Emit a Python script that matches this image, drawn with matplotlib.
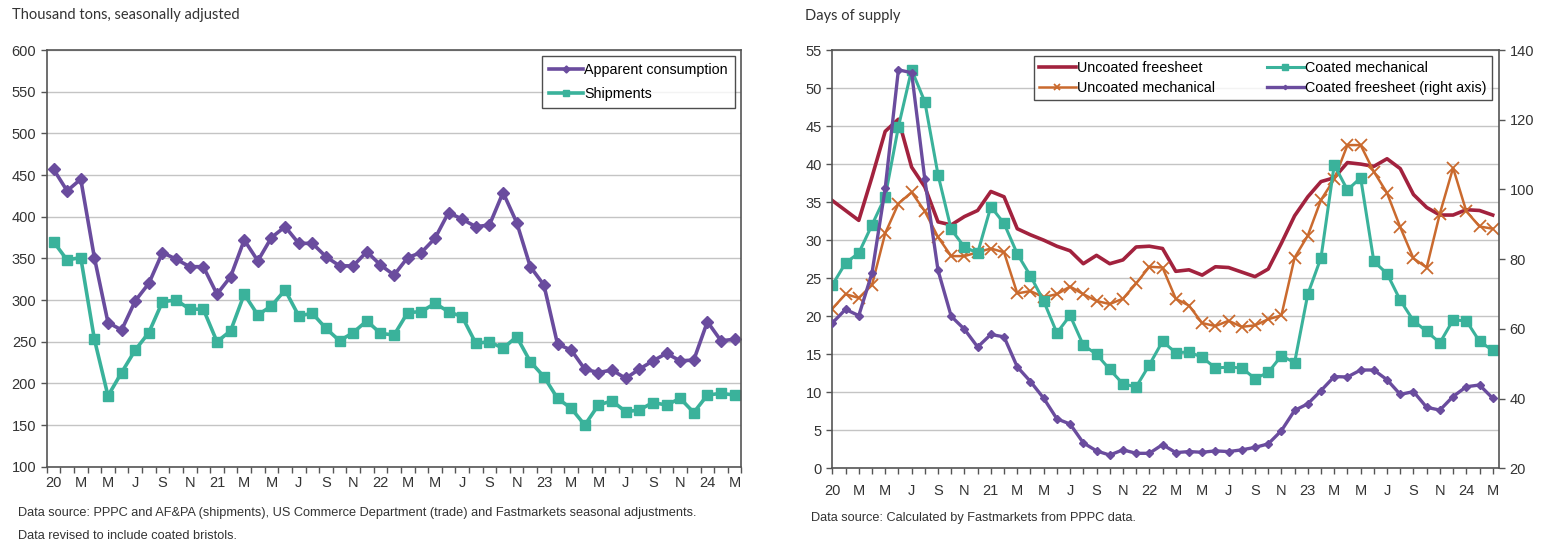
import matplotlib
matplotlib.use("Agg")
import matplotlib.pyplot as plt
import numpy as np

plt.rcParams['font.family'] = ['Liberation Sans', 'DejaVu Sans']

# Monthly data, Jan 2020 .. Mar 2024
tick_labels = ['20', 'M', 'M', 'J', 'S', 'N', '21', 'M', 'M', 'J', 'S', 'N', '22', 'M', 'M', 'J', 'S', 'N',
               '23', 'M', 'M', 'J', 'S', 'N', '24', 'M']

# Left chart: thousand tons, seasonally adjusted
consumption = [457, 431, 445, 351, 273, 264, 299, 320, 357, 349, 340, 340, 307, 328, 372, 347, 375, 388, 368, 368,
               352, 341, 341, 358, 342, 330, 351, 357, 374, 405, 397, 388, 390, 429, 393, 340, 318, 247, 240, 217,
               213, 216, 206, 217, 227, 236, 227, 228, 274, 251, 253]
shipments = [370, 348, 351, 253, 185, 213, 240, 261, 298, 300, 289, 289, 250, 263, 307, 282, 293, 312, 281, 284,
             266, 251, 261, 275, 260, 258, 285, 286, 296, 286, 280, 248, 250, 242, 256, 226, 208, 182, 170, 150,
             174, 179, 166, 168, 177, 174, 182, 165, 186, 188, 186]

# Right chart: days of supply
uncoated_free = [35.2, 33.9, 32.6, 38.3, 44.3, 45.9, 39.6, 37.0, 32.4, 32.0, 33.1, 33.9, 36.4, 35.7, 31.5, 30.7,
                 30.0, 29.2, 28.6, 26.9, 28.0, 26.9, 27.4, 29.1, 29.2, 28.9, 25.9, 26.1, 25.4, 26.5, 26.4, 25.8,
                 25.2, 26.2, 29.6, 33.2, 35.7, 37.7, 38.2, 40.2, 40.0, 39.7, 40.7, 39.4, 36.0, 34.3, 33.3, 33.3,
                 34.0, 33.9, 33.3]
uncoated_mech = [21.0, 22.9, 22.4, 24.1, 30.9, 34.8, 36.3, 33.8, 30.4, 27.9, 27.9, 28.4, 28.9, 28.4, 23.0, 23.3,
                 22.5, 22.9, 23.9, 22.9, 22.0, 21.6, 22.3, 24.3, 26.5, 26.4, 22.3, 21.4, 19.1, 18.7, 19.4, 18.6,
                 18.8, 19.6, 20.1, 27.7, 30.6, 35.3, 38.0, 42.5, 42.5, 39.0, 36.2, 31.7, 27.6, 26.4, 33.5, 39.5,
                 33.8, 31.8, 31.5]
coated_mech = [24.1, 27.0, 28.3, 32.0, 35.7, 44.9, 52.4, 48.2, 38.6, 31.4, 29.1, 28.3, 34.4, 32.2, 28.2, 25.3,
               22.0, 17.8, 20.1, 16.2, 15.0, 13.0, 11.1, 10.7, 13.6, 16.7, 15.2, 15.3, 14.6, 13.2, 13.3, 13.2,
               11.8, 12.6, 14.8, 13.9, 22.9, 27.7, 39.9, 36.6, 38.2, 27.2, 25.6, 22.1, 19.4, 18.0, 16.5, 19.5,
               19.4, 16.7, 15.5]
coated_free = [61.7, 65.6, 63.8, 76.0, 100.3, 134.3, 133.5, 102.9, 76.8, 63.6, 59.9, 54.8, 58.4, 57.7, 49.1, 44.9,
               40.1, 34.2, 32.7, 27.3, 25.0, 23.8, 25.3, 24.3, 24.3, 26.8, 24.5, 24.8, 24.6, 25.0, 24.8, 25.3,
               26.0, 27.0, 30.8, 36.6, 38.5, 42.3, 46.3, 46.2, 48.2, 48.2, 45.4, 41.2, 42.0, 37.5, 36.7, 40.6,
               43.4, 43.9, 40.1]

PURPLE = '#6A4C9E'
TEAL = '#3AB29B'
RED = '#A2223E'
ORANGE = '#CA6A2E'
GRID = '#C4C4C4'
SPINE = '#555555'
TXT = '#333333'

x = np.arange(len(consumption))

fig = plt.figure(figsize=(15.46, 5.55), dpi=100)


def style_frame(ax):
    for s in ax.spines.values():
        s.set_color(SPINE)
        s.set_linewidth(1.2)
    ax.grid(axis='y', color=GRID, linewidth=1.0)
    ax.set_axisbelow(True)
    ax.tick_params(colors=SPINE, labelcolor=TXT, labelsize=10.5, length=4, width=1)


# ---- left chart ----
ax1 = fig.add_axes([0.0302, 0.1591, 0.4494, 0.7508])
ax1.plot(x, consumption, color=PURPLE, lw=2.6, marker='D', ms=6.5, label='Apparent consumption')
ax1.plot(x, shipments, color=TEAL, lw=2.6, marker='s', ms=7.5, label='Shipments')
ax1.set_xlim(-0.5, len(x) - 0.5)
ax1.set_ylim(100, 600)
ax1.set_yticks(range(100, 601, 50))
ax1.set_xticks(range(0, len(x), 2))
ax1.set_xticklabels(tick_labels)
ax1.set_xticks(np.arange(-0.5, len(x), 1), minor=True)
style_frame(ax1)
ax1.tick_params(axis='x', which='major', length=0, pad=7)
ax1.tick_params(axis='x', which='minor', length=4, color=SPINE, width=1)
leg1 = ax1.legend(loc='upper right', bbox_to_anchor=(0.991, 0.986), borderaxespad=0, fancybox=False,
                  edgecolor='#222222', fontsize=10.3, handlelength=2.4, handletextpad=0.1, numpoints=1,
                  markerscale=0.55, borderpad=0.5, labelspacing=0.7)
leg1.get_frame().set_linewidth(1.0)

# ---- right chart ----
ax2 = fig.add_axes([0.5384, 0.1562, 0.4314, 0.7537])
ax2.plot(x, uncoated_free, color=RED, lw=2.6, label='Uncoated freesheet')
ax2.plot(x, uncoated_mech, color=ORANGE, lw=1.8, marker='x', ms=8, mew=1.3, label='Uncoated mechanical')
ax2.plot(x, coated_mech, color=TEAL, lw=2.2, marker='s', ms=7, label='Coated mechanical')
ax2.set_xlim(0, len(x) - 0.5)
ax2.set_ylim(0, 55)
ax2.set_yticks(range(0, 56, 5))
ax2.set_xticks(range(len(x)))
ax2.set_xticklabels([tick_labels[i // 2] if i % 2 == 0 else '' for i in range(len(x))])
style_frame(ax2)
ax2.tick_params(axis='x', pad=7)

ax3 = ax2.twinx()
ax3.plot(x, coated_free, color=PURPLE, lw=2.4, marker='D', ms=4, label='Coated freesheet (right axis)')
ax3.set_ylim(20, 140)
ax3.set_yticks(range(20, 141, 20))
for s in ax3.spines.values():
    s.set_visible(False)
ax3.tick_params(colors=SPINE, labelcolor=TXT, labelsize=10.5, length=4, width=1)

handles = ax2.get_lines() + ax3.get_lines()
leg2 = ax3.legend(handles, [h.get_label() for h in handles],
                  loc='upper right', bbox_to_anchor=(0.989, 0.986), borderaxespad=0, ncol=2, fancybox=False,
                  edgecolor='#222222', fontsize=10.3, handlelength=2.6, handletextpad=0.1, numpoints=1,
                  markerscale=0.55, columnspacing=3.6, borderpad=0.35, labelspacing=0.4)
leg2.get_frame().set_linewidth(1.0)

# ---- titles and notes ----
fig.text(0.0078, 0.973, 'Thousand tons, seasonally adjusted', family=['Lato', 'DejaVu Sans'], fontsize=10.5,
         color=TXT, va='center')
fig.text(0.5207, 0.971, 'Days of supply', family=['Lato', 'DejaVu Sans'], fontsize=10.5, color=TXT, va='center')
fig.text(0.0116, 0.076, 'Data source: PPPC and AF&PA (shipments), US Commerce Department (trade) and Fastmarkets '
         'seasonal adjustments.', fontsize=9.2, color=TXT, va='center')
fig.text(0.0116, 0.034, 'Data revised to include coated bristols.', fontsize=9.2, color=TXT, va='center')
fig.text(0.5246, 0.067, 'Data source: Calculated by Fastmarkets from PPPC data.', fontsize=9.2, color=TXT,
         va='center')

fig.savefig('out.png', dpi=100)
